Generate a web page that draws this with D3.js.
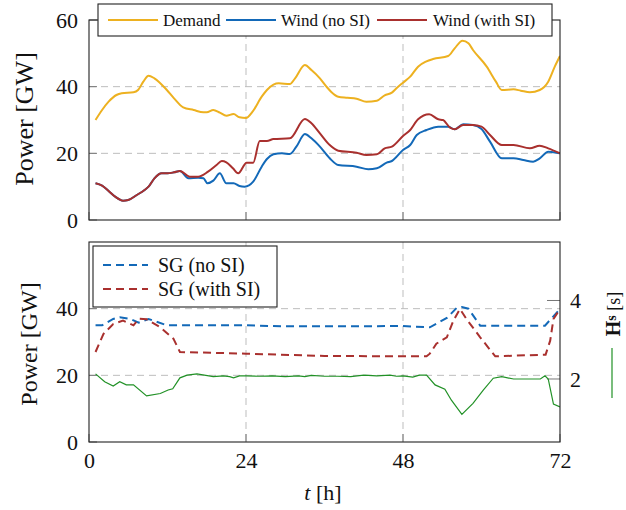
<!DOCTYPE html>
<html>
<head>
<meta charset="utf-8">
<script src="https://cdn.jsdelivr.net/npm/d3@7/dist/d3.min.js"></script>
<style>
  html, body { margin: 0; padding: 0; background: #fff; }
  svg { display: block; }
  svg text { font-family: "Liberation Serif", "DejaVu Serif", "Noto Serif", serif !important; fill: #111; }
</style>
</head>
<body>
<svg id="chart" width="626" height="510"></svg>
<script>
// ---- data (hours, GW, seconds) ----
const xTicks = [0, 24, 48, 72];
const topYTicks = [0, 20, 40, 60];
const botYTicks = [0, 20, 40];
const hsTicks = [2, 4];

const demandT = [1, 2, 3, 4.2, 5, 6.8, 7.5, 8.3, 9.1, 10, 11.9, 13, 14.4, 16, 17.5, 18, 19, 20, 21, 22.1, 23, 24, 25, 26.4, 27.2, 28.2, 29, 30.7, 31.5, 33, 34, 35.3, 36.3, 37, 38.1, 39.5, 40.9, 42.4, 44, 45.2, 46.3, 47, 48, 49.1, 50.3, 51.5, 52.6, 54.9, 55.9, 57.1, 58, 58.7, 60.8, 62.2, 63.1, 64.9, 66, 67.4, 68.9, 70.2, 71.2, 72];
const demandV = [30.0, 33, 35.5, 37.5, 38, 38.3, 39, 41.5, 43.3, 42.5, 39, 36.5, 33.8, 33, 32.3, 32.3, 33, 32.2, 31.3, 31.8, 30.8, 30.6, 32.5, 37, 39, 40.6, 41, 40.8, 42.5, 46.5, 45, 42.5, 40, 38.5, 37, 36.7, 36.4, 35.5, 35.8, 37.4, 38.2, 39.5, 41.2, 43, 46, 47.5, 48.3, 49.2, 51.5, 53.8, 53, 51, 46, 41.5, 39, 39.2, 38.8, 38.3, 39, 41.5, 46, 49.2];

const windNoSiT = [1, 2, 3, 4, 5.2, 6, 7.3, 8.5, 9.1, 10, 11.1, 12, 13, 13.9, 15.2, 16.7, 17.5, 18.1, 19, 20, 21, 22.1, 23, 23.8, 25.1, 26.4, 27.2, 28.2, 29.5, 30.7, 31.7, 33, 34, 35.3, 36.8, 38.1, 40.9, 42.7, 44, 45.5, 46.3, 48, 49.1, 50.1, 51.6, 53.4, 54.9, 55.9, 57.2, 58.7, 60, 61.3, 63.1, 64.9, 66.4, 67.9, 68.9, 70.2, 71, 72];
const windNoSiV = [11, 10.3, 8.7, 7, 5.8, 6, 7.5, 9, 10, 12.5, 14, 14, 14.3, 14.7, 12.5, 12.7, 12.5, 11, 11.8, 14, 11, 11, 10.2, 10, 11.5, 16, 18.3, 19.7, 20, 19.8, 22, 25.8, 24.5, 22, 18.5, 16.5, 16, 15.2, 15.5, 17.2, 17.7, 21, 22.5, 25.5, 27, 28, 28, 27.2, 28.7, 28.5, 27.3, 23.5, 18.5, 18.5, 18, 17.5, 18.5, 20.5, 20.3, 20];

const windSiT = [1, 2, 3, 4, 5.2, 6, 7.3, 8.5, 9.1, 10, 11.1, 12, 13, 13.9, 15.4, 16.7, 18.2, 19.5, 20.3, 21, 22, 22.8, 24.1, 25.1, 26.1, 27.2, 28.2, 30.7, 33, 34, 35.3, 36.8, 38.1, 40.9, 42.4, 44, 45.2, 46.3, 48, 49.1, 50.3, 52, 53.4, 54.1, 55.2, 55.9, 57.2, 58.7, 60, 61.3, 63.1, 64.9, 67.4, 68.9, 70.2, 72];
const windSiV = [11, 10.3, 8.7, 7, 5.8, 6, 7.5, 9, 10, 12.5, 14, 14, 14.3, 14.7, 13, 13, 14.5, 16.5, 17.7, 17.3, 15.5, 14, 17.2, 17.2, 23.7, 23.7, 24.3, 24.5, 30.3, 29, 26, 22.5, 20.8, 20.2, 19.5, 19.7, 21.5, 22, 25.2, 27, 30.2, 31.7, 30.2, 30, 27.7, 27.2, 28.5, 28.5, 28, 25.5, 22.5, 22.5, 21.5, 22.3, 21.5, 20];

const sgNoSiT = [1, 2, 3.7, 4.7, 6.3, 7.6, 9.1, 11.9, 24, 30, 40, 48, 52.1, 54.7, 56.2, 57, 58, 59.8, 69.7, 72];
const sgNoSiV = [35, 35, 36.9, 37.4, 36.9, 35.8, 36.9, 35, 35, 34.7, 34.7, 34.8, 34.4, 37.2, 40.2, 40.5, 40, 34.9, 34.9, 39.9];

const sgSiT = [1, 2.2, 3.7, 5.2, 6.8, 7.6, 8.8, 10.9, 12.9, 13.9, 24, 36, 51.6, 52.1, 53.1, 54.7, 55.7, 56.7, 57.7, 59.8, 62.1, 69.8, 70.5, 71, 72];
const sgSiV = [27, 32.4, 35.4, 36.4, 35, 37, 36.8, 34.4, 31, 27, 26.5, 25.8, 25.7, 26.5, 29.5, 31.4, 36.4, 39.9, 36.9, 31.4, 25.7, 26.2, 30.4, 36.9, 39.9];

const hsT = [1, 2.4, 3.7, 4.7, 5.7, 6.8, 8.8, 10.9, 12.1, 12.8, 13.9, 15, 16.5, 19, 20.5, 21.5, 22.1, 23, 24, 26, 28, 30, 32, 33, 34, 36, 38, 40, 42, 44, 46, 47, 48, 49.5, 50.5, 51.6, 52.9, 54.4, 55.4, 57, 58.7, 60.3, 61.8, 63.1, 64.9, 69, 69.7, 70.2, 71, 72];
const hsV = [2.13, 1.93, 1.82, 1.93, 1.85, 1.85, 1.57, 1.63, 1.72, 1.75, 2.03, 2.1, 2.13, 2.06, 2.08, 2.06, 2.03, 2.08, 2.08, 2.07, 2.08, 2.06, 2.08, 2.06, 2.09, 2.07, 2.07, 2.06, 2.1, 2.08, 2.1, 2.07, 2.08, 2.05, 2.1, 2.1, 1.85, 1.74, 1.46, 1.1, 1.38, 1.72, 2.02, 2.06, 2.0, 2.0, 2.08, 2.0, 1.36, 1.29];

const topLegend = ["Demand", "Wind (no SI)", "Wind (with SI)"];
const botLegend = ["SG (no SI)", "SG (with SI)"];

const C = { demand: "#EDB120", blue: "#1369B8", red: "#A9302E", green: "#219126", grid: "#bdbdbd", frame: "#222", tick: "#777" };

// ---- layout ----
const svg = d3.select("#chart");
const L = 89, R = 560;
const boxTop = { t: 20, b: 220 };
const boxBot = { t: 242, b: 442 };

const x = d3.scaleLinear().domain([0, 72]).range([L, R]);
const yTop = d3.scaleLinear().domain([0, 60]).range([boxTop.b, boxTop.t]);
const yBot = d3.scaleLinear().domain([0, 60]).range([boxBot.b, boxBot.t]);
const yHs = d3.scaleLinear().domain([0.395, 5.49]).range([boxBot.b, boxBot.t]);

const zip = (t, v) => t.map((d, i) => [d, v[i]]);

function styleAxis(sel) {
  sel.attr("font-family", null);
  sel.select(".domain").remove();
  sel.selectAll("text").attr("font-size", 22).attr("fill", "#111");
}

function panel(yScale, box, yTicks, gridY) {
  const g = svg.append("g");
  // grid
  gridY.forEach(v => g.append("line")
    .attr("x1", L).attr("x2", R).attr("y1", yScale(v)).attr("y2", yScale(v))
    .attr("stroke", C.grid).attr("stroke-dasharray", "7,5"));
  [24, 48].forEach(v => g.append("line")
    .attr("x1", x(v)).attr("x2", x(v)).attr("y1", box.t).attr("y2", box.b)
    .attr("stroke", C.grid).attr("stroke-dasharray", "7,5"));
  // inward ticks
  yTicks.forEach(v => g.append("line")
    .attr("x1", L).attr("x2", L + 8).attr("y1", yScale(v)).attr("y2", yScale(v))
    .attr("stroke", C.tick));
  xTicks.forEach(v => g.append("line")
    .attr("x1", x(v)).attr("x2", x(v)).attr("y1", box.b).attr("y2", box.b - 8)
    .attr("stroke", C.tick));
  // tick labels
  const ax = d3.axisLeft(yScale).tickValues(yTicks).tickSize(0).tickPadding(11).tickFormat(d3.format("d"));
  svg.append("g").attr("transform", `translate(${L},0)`).call(ax).call(styleAxis);
  return g;
}

panel(yTop, boxTop, topYTicks, [20, 40]);
panel(yBot, boxBot, botYTicks, [20, 40]);

// right axis ticks
hsTicks.forEach(v => svg.append("line")
  .attr("x1", R - 13).attr("x2", R).attr("y1", yHs(v)).attr("y2", yHs(v))
  .attr("stroke", C.tick));
const axR = d3.axisRight(yHs).tickValues(hsTicks).tickSize(0).tickPadding(10).tickFormat(d3.format("d"));
svg.append("g").attr("transform", `translate(${R},0)`).call(axR).call(styleAxis);

// bottom x axis labels
const axB = d3.axisBottom(x).tickValues(xTicks).tickSize(0).tickPadding(10).tickFormat(d3.format("d"));
svg.append("g").attr("transform", `translate(0,${boxBot.b})`).call(axB).call(styleAxis);

// ---- lines ----
svg.append("clipPath").attr("id", "clipTop").append("rect")
  .attr("x", L).attr("y", boxTop.t).attr("width", R - L).attr("height", boxTop.b - boxTop.t);
svg.append("clipPath").attr("id", "clipBot").append("rect")
  .attr("x", L).attr("y", boxBot.t).attr("width", R - L).attr("height", boxBot.b - boxBot.t);

const lineTop = d3.line().x(d => x(d[0])).y(d => yTop(d[1])).curve(d3.curveMonotoneX);
const lineBot = d3.line().x(d => x(d[0])).y(d => yBot(d[1]));
const lineHs = d3.line().x(d => x(d[0])).y(d => yHs(d[1]));

const lt = svg.append("g").attr("clip-path", "url(#clipTop)");
lt.append("path").attr("d", lineTop(zip(demandT, demandV))).attr("fill", "none").attr("stroke", C.demand).attr("stroke-width", 2);
lt.append("path").attr("d", lineTop(zip(windNoSiT, windNoSiV))).attr("fill", "none").attr("stroke", C.blue).attr("stroke-width", 2);
lt.append("path").attr("d", lineTop(zip(windSiT, windSiV))).attr("fill", "none").attr("stroke", C.red).attr("stroke-width", 2);

const lb = svg.append("g").attr("clip-path", "url(#clipBot)");
lb.append("path").attr("d", lineHs(zip(hsT, hsV))).attr("fill", "none").attr("stroke", C.green).attr("stroke-width", 1.2);
lb.append("path").attr("d", lineBot(zip(sgNoSiT, sgNoSiV))).attr("fill", "none").attr("stroke", C.blue).attr("stroke-width", 2).attr("stroke-dasharray", "8,5");
lb.append("path").attr("d", lineBot(zip(sgSiT, sgSiV))).attr("fill", "none").attr("stroke", C.red).attr("stroke-width", 2).attr("stroke-dasharray", "8,5");

// frames
[boxTop, boxBot].forEach(b => svg.append("rect")
  .attr("x", L).attr("y", b.t).attr("width", R - L).attr("height", b.b - b.t)
  .attr("fill", "none").attr("stroke", C.frame).attr("stroke-width", 1.1));

// ---- axis titles ----
svg.append("text").attr("transform", "translate(33,119) rotate(-90)")
  .attr("text-anchor", "middle").attr("font-size", 26).text("Power [GW]");
svg.append("text").attr("transform", "translate(37,344) rotate(-90)")
  .attr("text-anchor", "middle").attr("font-size", 24).text("Power [GW]");
const tl = svg.append("text").attr("x", 323).attr("y", 500).attr("text-anchor", "middle").attr("font-size", 22);
tl.append("tspan").attr("font-style", "italic").text("t");
tl.append("tspan").text(" [h]");

// right title with line sample
const hs = svg.append("text").attr("transform", "translate(620,314) rotate(-90)")
  .attr("text-anchor", "middle").attr("font-size", 20);
hs.append("tspan").attr("font-weight", "bold").text("H");
hs.append("tspan").attr("font-weight", "bold").attr("font-size", 14).attr("dy", -4).text("s");
hs.append("tspan").attr("dy", 4).attr("font-size", 18).text(" [s]");
svg.append("line").attr("x1", 612).attr("x2", 612).attr("y1", 348).attr("y2", 398)
  .attr("stroke", C.green).attr("stroke-width", 1.2);

// ---- legends ----
const lgTop = svg.append("g");
lgTop.append("rect").attr("x", 98).attr("y", 4).attr("width", 454).attr("height", 32)
  .attr("fill", "#fff").attr("stroke", C.frame).attr("stroke-width", 1.1);
const topSamples = [[108, 163], [226, 281], [377, 433]];
const topColors = [C.demand, C.blue, C.red];
topLegend.forEach((name, i) => {
  lgTop.append("line").attr("x1", topSamples[i][0]).attr("x2", topSamples[i][0] + 50)
    .attr("y1", 20).attr("y2", 20).attr("stroke", topColors[i]).attr("stroke-width", 2);
  lgTop.append("text").attr("x", topSamples[i][1]).attr("y", 25.5).attr("font-size", 17).text(name);
});

const lgBot = svg.append("g");
lgBot.append("rect").attr("x", 93).attr("y", 246).attr("width", 184).attr("height", 61)
  .attr("fill", "#fff").attr("stroke", C.frame).attr("stroke-width", 1.1);
const botColors = [C.blue, C.red];
botLegend.forEach((name, i) => {
  const yy = 265 + i * 24;
  lgBot.append("line").attr("x1", 103).attr("x2", 148).attr("y1", yy).attr("y2", yy)
    .attr("stroke", botColors[i]).attr("stroke-width", 2).attr("stroke-dasharray", "8,5");
  lgBot.append("text").attr("x", 158).attr("y", yy + 7).attr("font-size", 20).text(name);
});
</script>
</body>
</html>
